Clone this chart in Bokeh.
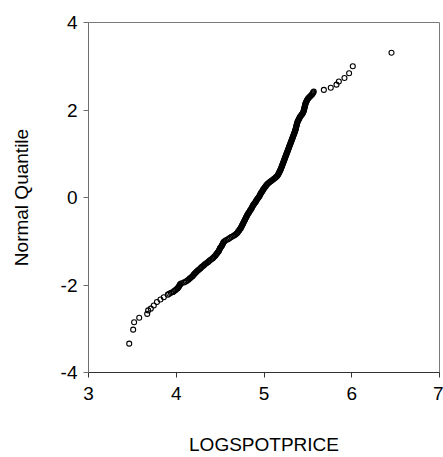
from bokeh.plotting import figure
from bokeh.models import FixedTicker, Range1d
from bokeh.embed import file_html
from bokeh.resources import INLINE

# Sorted log spot prices (x) against their normal quantiles (y).
# Lower tail: sparse observations below the main body.
lower_x = [3.464, 3.509, 3.520, 3.578, 3.669, 3.680, 3.710, 3.744, 3.780,
           3.820, 3.858, 3.904, 3.920, 3.940, 3.965, 3.975]
lower_q = [-3.34, -3.02, -2.85, -2.75, -2.66, -2.58, -2.54, -2.47, -2.39,
           -2.33, -2.28, -2.22, -2.20, -2.18, -2.16, -2.14]

# Main body: densely packed observations.
body_x = [
    3.990, 4.000, 4.015, 4.020, 4.030, 4.035, 4.040, 4.045, 4.060, 4.090,
    4.110, 4.125, 4.140, 4.150, 4.160, 4.175, 4.185, 4.195, 4.200, 4.210,
    4.220, 4.230, 4.240, 4.250, 4.265, 4.275, 4.285, 4.295, 4.310, 4.320,
    4.330, 4.345, 4.360, 4.370, 4.380, 4.395, 4.410, 4.420, 4.430, 4.440,
    4.450, 4.455, 4.465, 4.470, 4.480, 4.485, 4.490, 4.495, 4.500, 4.505,
    4.515, 4.520, 4.525, 4.530, 4.535, 4.540, 4.550, 4.565, 4.585, 4.600,
    4.615, 4.630, 4.650, 4.665, 4.680, 4.690, 4.700, 4.705, 4.715, 4.720,
    4.727, 4.735, 4.740, 4.745, 4.750, 4.755, 4.760, 4.765, 4.770, 4.775,
    4.780, 4.785, 4.790, 4.795, 4.800, 4.805, 4.810, 4.815, 4.822, 4.830,
    4.835, 4.840, 4.848, 4.855, 4.860, 4.865, 4.870, 4.875, 4.882, 4.890,
    4.897, 4.905, 4.910, 4.915, 4.922, 4.930, 4.937, 4.945, 4.950, 4.955,
    4.960, 4.965, 4.972, 4.980, 4.985, 4.990, 4.997, 5.005, 5.012, 5.020,
    5.027, 5.035, 5.045, 5.058, 5.070, 5.083, 5.097, 5.110, 5.122, 5.134,
    5.145, 5.153, 5.160, 5.165, 5.170, 5.175, 5.180, 5.185, 5.190, 5.193,
    5.197, 5.201, 5.205, 5.209, 5.212, 5.216, 5.220, 5.224, 5.227, 5.231,
    5.235, 5.239, 5.242, 5.246, 5.250, 5.254, 5.257, 5.261, 5.265, 5.269,
    5.272, 5.276, 5.280, 5.284, 5.287, 5.291, 5.295, 5.299, 5.302, 5.306,
    5.310, 5.314, 5.317, 5.321, 5.325, 5.329, 5.332, 5.336, 5.340, 5.344,
    5.347, 5.351, 5.355, 5.358, 5.360, 5.363, 5.365, 5.368, 5.370, 5.373,
    5.375, 5.378, 5.381, 5.385, 5.390, 5.395, 5.400, 5.405, 5.410, 5.417,
    5.425, 5.432, 5.440, 5.445, 5.450, 5.452, 5.455, 5.458, 5.460, 5.462,
    5.465, 5.468, 5.470, 5.472, 5.475, 5.480, 5.485, 5.490, 5.495, 5.502,
    5.510, 5.520, 5.530, 5.540, 5.550, 5.555, 5.560,
]
body_q = [
    -2.12, -2.10, -2.08, -2.06, -2.04, -2.02, -2.00, -1.98, -1.96, -1.94,
    -1.92, -1.90, -1.88, -1.86, -1.84, -1.82, -1.80, -1.78, -1.76, -1.74,
    -1.72, -1.70, -1.68, -1.66, -1.64, -1.62, -1.60, -1.58, -1.56, -1.54,
    -1.52, -1.50, -1.48, -1.46, -1.44, -1.42, -1.40, -1.38, -1.36, -1.34,
    -1.32, -1.30, -1.28, -1.26, -1.24, -1.22, -1.20, -1.18, -1.16, -1.14,
    -1.12, -1.10, -1.08, -1.06, -1.04, -1.02, -1.00, -0.98, -0.96, -0.94,
    -0.92, -0.90, -0.88, -0.86, -0.84, -0.82, -0.80, -0.78, -0.76, -0.74,
    -0.72, -0.70, -0.68, -0.66, -0.64, -0.62, -0.60, -0.58, -0.56, -0.54,
    -0.52, -0.50, -0.48, -0.46, -0.44, -0.42, -0.40, -0.38, -0.36, -0.34,
    -0.32, -0.30, -0.28, -0.26, -0.24, -0.22, -0.20, -0.18, -0.16, -0.14,
    -0.12, -0.10, -0.08, -0.06, -0.04, -0.02, 0.00, 0.02, 0.04, 0.06,
    0.08, 0.10, 0.12, 0.14, 0.16, 0.18, 0.20, 0.22, 0.24, 0.26,
    0.28, 0.30, 0.32, 0.34, 0.36, 0.38, 0.40, 0.42, 0.44, 0.46,
    0.48, 0.50, 0.52, 0.54, 0.56, 0.58, 0.60, 0.62, 0.64, 0.66,
    0.68, 0.70, 0.72, 0.74, 0.76, 0.78, 0.80, 0.82, 0.84, 0.86,
    0.88, 0.90, 0.92, 0.94, 0.96, 0.98, 1.00, 1.02, 1.04, 1.06,
    1.08, 1.10, 1.12, 1.14, 1.16, 1.18, 1.20, 1.22, 1.24, 1.26,
    1.28, 1.30, 1.32, 1.34, 1.36, 1.38, 1.40, 1.42, 1.44, 1.46,
    1.48, 1.50, 1.52, 1.54, 1.56, 1.58, 1.60, 1.62, 1.64, 1.66,
    1.68, 1.70, 1.72, 1.74, 1.76, 1.78, 1.80, 1.82, 1.84, 1.86,
    1.88, 1.90, 1.92, 1.94, 1.96, 1.98, 2.00, 2.02, 2.04, 2.06,
    2.08, 2.10, 2.12, 2.14, 2.16, 2.18, 2.20, 2.22, 2.24, 2.26,
    2.28, 2.30, 2.32, 2.34, 2.36, 2.38, 2.40,
]

# Upper tail: sparse observations above the main body.
upper_x = [5.567, 5.682, 5.761, 5.826, 5.853, 5.917, 5.970, 6.012, 6.453]
upper_q = [2.42, 2.46, 2.51, 2.58, 2.65, 2.73, 2.84, 3.00, 3.31]

x_ticks = [3, 4, 5, 6, 7]
y_ticks = [-4, -2, 0, 2, 4]

FONT = "Liberation Sans"

p = figure(
    width=443, height=457,
    x_range=Range1d(3, 7), y_range=Range1d(-4, 4),
    output_backend="svg", toolbar_location=None,
    min_border_left=88, min_border_right=4,
    min_border_top=22, min_border_bottom=85,
)

xs = lower_x + body_x + upper_x
qs = lower_q + body_q + upper_q
p.scatter(
    xs, qs, marker="circle", size=5,
    fill_color=None, line_color="black", line_width=1.1,
)

p.xgrid.visible = False
p.ygrid.visible = False
p.outline_line_color = "#7a7a7a"
p.outline_line_width = 1

p.xaxis.ticker = FixedTicker(ticks=x_ticks)
p.yaxis.ticker = FixedTicker(ticks=y_ticks)
p.yaxis.major_label_overrides = {t: str(t) for t in y_ticks}
p.xaxis.axis_label = "LOGSPOTPRICE"
p.yaxis.axis_label = "Normal Quantile"

for ax, col in ((p.xaxis, "#333333"), (p.yaxis, "#6e6e6e")):
    ax.axis_line_color = col
    ax.major_tick_line_color = col
    ax.minor_tick_line_color = None
    ax.major_tick_in = 0
    ax.major_tick_out = 5
    ax.major_label_text_font = FONT
    ax.major_label_text_font_size = "19px"
    ax.major_label_text_color = "black"
    ax.axis_label_text_font = FONT
    ax.axis_label_text_font_size = "19px"
    ax.axis_label_text_font_style = "normal"
    ax.axis_label_text_color = "black"

p.xaxis.major_label_standoff = 9
p.yaxis.major_label_standoff = 6
p.xaxis.axis_label_standoff = 31
p.yaxis.axis_label_standoff = 26

open("out.html", "w").write(file_html(p, INLINE))
